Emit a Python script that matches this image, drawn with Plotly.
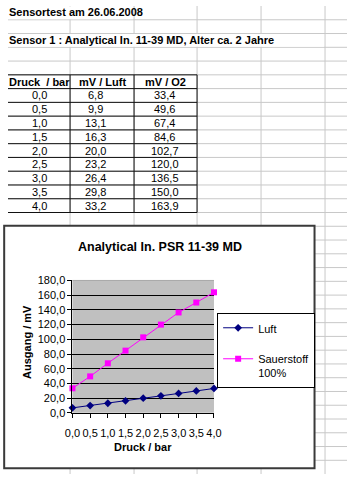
import plotly.graph_objects as go

# ---------------- data ----------------
druck = [0.0, 0.5, 1.0, 1.5, 2.0, 2.5, 3.0, 3.5, 4.0]
luft = [6.8, 9.9, 13.1, 16.3, 20.0, 23.2, 26.4, 29.8, 33.2]
sauerstoff = [33.4, 49.6, 67.4, 84.6, 102.7, 120.0, 136.5, 150.0, 163.9]
table_header = ["Druck  / bar", "mV / Luft", "mV / O2"]
sheet_title = "Sensortest am 26.06.2008"
sensor_line = "Sensor 1 : Analytical In. 11-39 MD, Alter ca. 2 Jahre"
chart_title = "Analytical In. PSR 11-39 MD"
x_title = "Druck / bar"
y_title = "Ausgang / mV"
series_names = ["Luft", "Sauerstoff<br>100%"]
y_ticks = [0, 20, 40, 60, 80, 100, 120, 140, 160, 180]

# ---------------- geometry helpers (pixels -> paper) ----------------
W, H = 355, 480
RH = 14.12
FONT = "Liberation Sans, Arial, sans-serif"


def px(x):
    return x / W


def py(y):
    return 1 - y / H


def fmt(v):
    return f"{v:.1f}".replace(".", ",")


shapes = []
annotations = []

# sheet gridlines
grid_c = "#C8C8C8"
k = 1
while k * RH < H:
    y = k * RH
    shapes.append(dict(type="line", xref="paper", yref="paper", x0=px(0), x1=px(W),
                       y0=py(y), y1=py(y), line=dict(color=grid_c, width=1), layer="below"))
    k += 1
for x in [65, 132, 198, 265, 332]:
    shapes.append(dict(type="line", xref="paper", yref="paper", x0=px(x), x1=px(x),
                       y0=py(0), y1=py(H), line=dict(color=grid_c, width=1), layer="below"))

# overflowing text rows hide gridlines
shapes.append(dict(type="rect", xref="paper", yref="paper", x0=px(0), x1=px(131),
                   y0=py(0.5), y1=py(RH - 0.6), fillcolor="white", line=dict(width=0), layer="below"))
shapes.append(dict(type="rect", xref="paper", yref="paper", x0=px(0), x1=px(331),
                   y0=py(2 * RH + 0.6), y1=py(3 * RH - 0.6), fillcolor="white", line=dict(width=0), layer="below"))

# table borders
t_top = 5 * RH
t_bot = 15 * RH
for i in range(5, 16):
    y = i * RH
    shapes.append(dict(type="line", xref="paper", yref="paper", x0=px(0), x1=px(198),
                       y0=py(y), y1=py(y), line=dict(color="#111111", width=1), layer="below"))
for x in [65, 132, 198]:
    shapes.append(dict(type="line", xref="paper", yref="paper", x0=px(x), x1=px(x),
                       y0=py(t_top), y1=py(t_bot), line=dict(color="#111111", width=1), layer="below"))

# chart area
shapes.append(dict(type="rect", xref="paper", yref="paper", x0=px(-4), x1=px(321),
                   y0=py(225.5), y1=py(474), fillcolor="white",
                   line=dict(color="#3A3A3A", width=2), layer="below"))

# grey plot area (subplot layer, below gridlines)
shapes.append(dict(type="rect", xref="x domain", yref="y domain", x0=0, x1=1, y0=0, y1=1,
                   fillcolor="#C0C0C0", line=dict(width=0), layer="below"))

# top edge of plot area (no black gridline there)
shapes.append(dict(type="line", xref="x domain", yref="y domain", x0=0, x1=1, y0=1, y1=1,
                   line=dict(color="#A8A8A8", width=1), layer="above"))

# sheet texts
annotations.append(dict(text="<b>" + sheet_title + "</b>", xref="paper", yref="paper",
                        x=px(-1), y=py(0.5 * RH - 0.6), xanchor="left", yanchor="middle",
                        showarrow=False, font=dict(family=FONT, size=11, color="black")))
annotations.append(dict(text="<b>" + sensor_line + "</b>", xref="paper", yref="paper",
                        x=px(-1), y=py(2.5 * RH - 0.8), xanchor="left", yanchor="middle",
                        showarrow=False, font=dict(family=FONT, size=11, color="black")))

head_cx = [33, 99, 165]
data_cx = [33, 92, 164.3]
for j, h in enumerate(table_header):
    annotations.append(dict(text="<b>" + h + "</b>", xref="paper", yref="paper",
                            x=px(head_cx[j]), y=py(5.5 * RH), xanchor="center", yanchor="middle",
                            showarrow=False, font=dict(family=FONT, size=11, color="black")))
for i, (d, l, o) in enumerate(zip(druck, luft, sauerstoff)):
    yc = (6.5 + i) * RH
    for j, v in enumerate([d, l, o]):
        annotations.append(dict(text=fmt(v), xref="paper", yref="paper",
                                x=px(data_cx[j]), y=py(yc), xanchor="center", yanchor="middle",
                                showarrow=False, font=dict(family=FONT, size=11, color="black")))

# chart texts
annotations.append(dict(text="<b>" + chart_title + "</b>", xref="paper", yref="paper",
                        x=px(159), y=py(247), xanchor="center", yanchor="middle",
                        showarrow=False, font=dict(family=FONT, size=12.5, color="black")))
annotations.append(dict(text="<b>" + x_title + "</b>", xref="paper", yref="paper",
                        x=px(141), y=py(452.7), xanchor="center", yanchor="middle",
                        showarrow=False, font=dict(family=FONT, size=11, color="black")))
annotations.append(dict(text="<b>" + y_title + "</b>", xref="paper", yref="paper",
                        x=px(20.5), y=py(345), xanchor="center", yanchor="middle", textangle=-90,
                        showarrow=False, font=dict(family=FONT, size=11, color="black")))

fig = go.Figure()
fig.add_trace(go.Scatter(x=druck, y=luft, mode="lines+markers", name=series_names[0],
                         legendgroup="a", cliponaxis=False,
                         line=dict(color="#000080", width=1),
                         marker=dict(symbol="diamond", size=6, color="#000080")))
fig.add_trace(go.Scatter(x=druck, y=sauerstoff, mode="lines+markers", name=series_names[1],
                         legendgroup="b", cliponaxis=False,
                         line=dict(color="#FF00FF", width=1),
                         marker=dict(symbol="square", size=6, color="#FF00FF")))

fig.update_layout(
    width=W, height=H, margin=dict(l=0, r=0, t=0, b=0),
    paper_bgcolor="white", plot_bgcolor="rgba(0,0,0,0)",
    separators=",.",
    font=dict(family=FONT, size=11, color="black"),
    shapes=shapes, annotations=annotations,
    showlegend=True,
    legend=dict(x=px(219), y=py(315), xanchor="left", yanchor="top",
                bordercolor="black", borderwidth=1, bgcolor="white",
                font=dict(family=FONT, size=11, color="black"),
                traceorder="grouped", tracegroupgap=12, valign="top"),
    xaxis=dict(domain=[px(67.5), px(215.7)], range=[0, 4], tickvals=druck, tickformat=".1f",
               ticks="outside", ticklen=4, tickcolor="black", showline=True, linecolor="black",
               linewidth=1, showgrid=False, zeroline=False, tickangle=0, ticklabelstandoff=6,
               tickfont=dict(family=FONT, size=11, color="black"), fixedrange=True),
    yaxis=dict(domain=[py(417.3), py(281.5)], range=[0, 180], tickvals=y_ticks, tickformat=".1f",
               ticks="outside", ticklen=4, tickcolor="black", showline=True, linecolor="black",
               linewidth=1, showgrid=True, gridcolor="black", gridwidth=1, zeroline=False,
               tickfont=dict(family=FONT, size=11, color="black"), fixedrange=True),
)

fig.write_html("out.html")
